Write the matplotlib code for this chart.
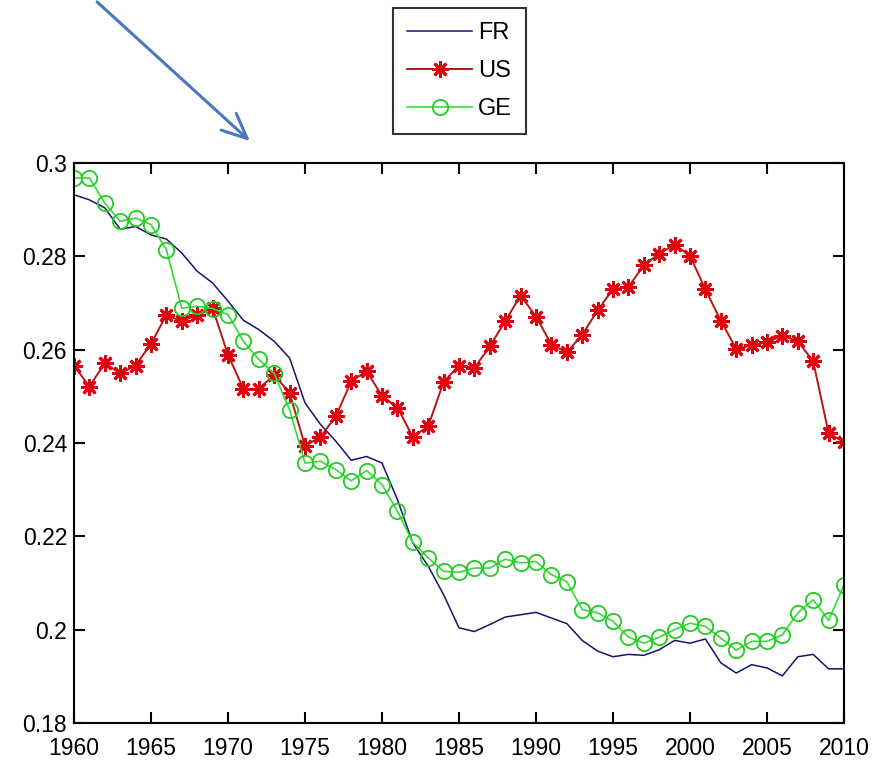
import numpy as np
import matplotlib
matplotlib.use('Agg')
import matplotlib.pyplot as plt
from matplotlib.patches import FancyArrowPatch

plt.rcParams['font.family'] = ['Liberation Sans', 'DejaVu Sans']

# Data
years = list(range(1960, 2011))

fr = [0.2932, 0.2921, 0.2904, 0.2858, 0.2864, 0.2846, 0.2837, 0.2807, 0.2768, 0.2743,
      0.2704, 0.2663, 0.2643, 0.2618, 0.2582, 0.2486, 0.2440, 0.2404, 0.2363, 0.2371,
      0.2357, 0.2279, 0.2186, 0.2136, 0.2075, 0.2004, 0.1996, 0.2011, 0.2027, 0.2032,
      0.2037, 0.2025, 0.2013, 0.1977, 0.1954, 0.1942, 0.1947, 0.1945, 0.1957, 0.1977,
      0.1971, 0.1980, 0.1929, 0.1907, 0.1925, 0.1918, 0.1901, 0.1942, 0.1947, 0.1916,
      0.1916]

us = [0.2566, 0.2521, 0.2571, 0.2549, 0.2566, 0.2613, 0.2674, 0.2661, 0.2674, 0.2689,
      0.2589, 0.2516, 0.2516, 0.2546, 0.2507, 0.2394, 0.2413, 0.2457, 0.2532, 0.2554,
      0.2501, 0.2476, 0.2413, 0.2436, 0.2531, 0.2566, 0.2561, 0.2607, 0.2661, 0.2716,
      0.2671, 0.2611, 0.2594, 0.2632, 0.2684, 0.2730, 0.2734, 0.2781, 0.2806, 0.2825,
      0.2801, 0.2729, 0.2662, 0.2602, 0.2609, 0.2616, 0.2630, 0.2618, 0.2575, 0.2421,
      0.2402]

ge = [0.2968, 0.2968, 0.2914, 0.2875, 0.2882, 0.2868, 0.2814, 0.2689, 0.2693, 0.2688,
      0.2675, 0.2618, 0.2579, 0.2549, 0.2471, 0.2357, 0.2361, 0.2343, 0.2319, 0.2341,
      0.2311, 0.2254, 0.2187, 0.2154, 0.2125, 0.2123, 0.2132, 0.2132, 0.2151, 0.2143,
      0.2146, 0.2118, 0.2103, 0.2043, 0.2036, 0.2018, 0.1984, 0.1971, 0.1984, 0.2000,
      0.2014, 0.2007, 0.1982, 0.1956, 0.1975, 0.1975, 0.1989, 0.2036, 0.2064, 0.2020,
      0.2096]

xticks = [1960, 1965, 1970, 1975, 1980, 1985, 1990, 1995, 2000, 2005, 2010]
yticks = [0.18, 0.2, 0.22, 0.24, 0.26, 0.28, 0.3]
ylabels = ['0.18', '0.2', '0.22', '0.24', '0.26', '0.28', '0.3']

fig = plt.figure(figsize=(8.81, 7.63), dpi=100)
ax = fig.add_axes([74 / 881, 1 - 723 / 763, 770 / 881, 560 / 763])

ax.plot(years, fr, '-', color='#14146e', lw=1.1, label='FR')
ax.plot(years, us, '-', color='#b01818', lw=1.4, marker=(8, 2, 0), ms=12,
        mec='#e00010', mew=2.0, label='US')
ax.plot(years, ge, '-', color='#33dd33', lw=1.2, marker='o', ms=11,
        mfc='none', mec='#22cc22', mew=1.3, label='GE')

ax.set_xlim(1960, 2010)
ax.set_ylim(0.18, 0.3)
ax.set_xticks(xticks)
ax.set_xticklabels([str(x) for x in xticks])
ax.set_yticks(yticks)
ax.set_yticklabels(ylabels)
ax.tick_params(direction='in', length=8, width=1.5, top=True, right=True,
               labelsize=16.5, colors='black')
ax.tick_params(axis='x', pad=10)
ax.tick_params(axis='y', pad=5)
for s in ax.spines.values():
    s.set_linewidth(1.5)

leg = ax.legend(loc='upper left', bbox_to_anchor=(393 / 881, 1 - 8 / 763),
                bbox_transform=fig.transFigure, fontsize=17, frameon=True,
                fancybox=False, edgecolor='black', handlelength=2.75,
                labelspacing=0.68, borderpad=0.6, handletextpad=0.25,
                borderaxespad=0)
leg.get_frame().set_linewidth(1.5)

# the blue arrow pasted on top of the figure
arrow = FancyArrowPatch((95 / 881, 1.0), (252 / 881, 1 - 143 / 763),
                        transform=fig.transFigure, arrowstyle='->,head_length=1.0,head_width=0.45',
                        mutation_scale=18, color='#4a78c0', lw=2.2)
fig.add_artist(arrow)

plt.savefig('out.png', dpi=100)
